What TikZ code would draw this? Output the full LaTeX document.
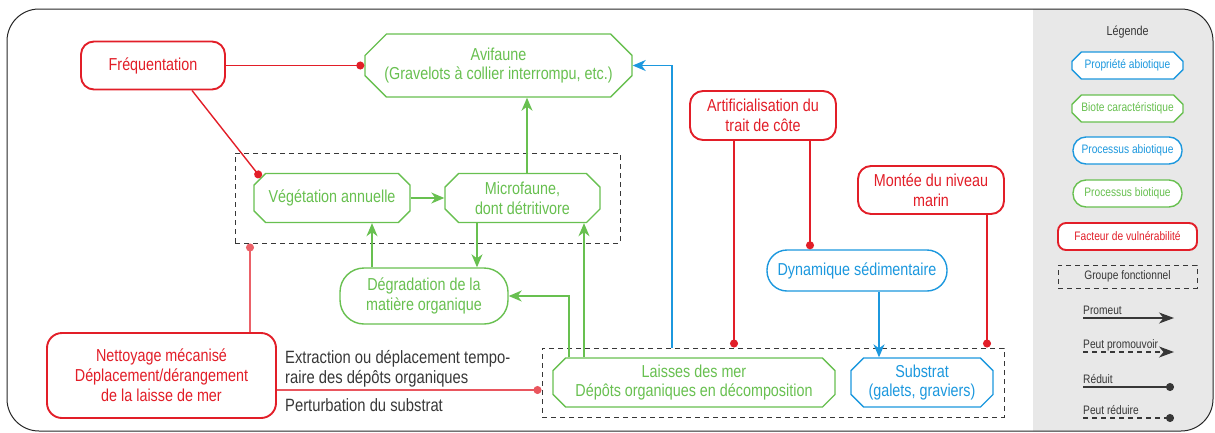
\documentclass[tikz,border=0pt]{standalone}
\usepackage{fontspec}
\setmainfont{Liberation Sans}[FakeStretch=0.83]
\usetikzlibrary{shapes.misc,arrows.meta,calc}
\definecolor{cred}{RGB}{226,30,40}
\definecolor{cgreen}{RGB}{104,192,80}
\definecolor{cblue}{RGB}{28,152,222}
\definecolor{cdark}{RGB}{55,55,55}
\definecolor{cpanel}{RGB}{232,232,232}
\begin{document}
\begin{tikzpicture}[x=1pt,y=-1pt,
  base/.style={inner sep=0pt, align=center, font=\fontsize{17.3}{19.8}\selectfont, fill=white},
  octo/.style={base, chamfered rectangle, chamfered rectangle angle=45, chamfered rectangle xsep=#1, draw, line width=1.4pt},
  gocto/.style={octo=#1, draw=cgreen, text=cgreen},
  bocto/.style={octo=#1, draw=cblue, text=cblue},
  gpill/.style={base, rectangle, rounded corners=#1, draw=cgreen, text=cgreen, line width=1.4pt},
  bpill/.style={base, rectangle, rounded corners=#1, draw=cblue, text=cblue, line width=1.4pt},
  redbox/.style={base, rectangle, rounded corners=#1, draw=cred, text=cred, line width=1.9pt},
  grp/.style={rectangle, draw=cdark, dashed, dash pattern=on 5pt off 4pt, line width=1pt, inner sep=0pt},
  garrow/.style={draw=cgreen, line width=1.4pt, -{Stealth[length=13pt,width=11pt,inset=4pt]}},
  barrow/.style={draw=cblue, line width=1.4pt, -{Stealth[length=13pt,width=11pt,inset=4pt]}},
  rdot/.style={draw=cred, line width=1.4pt, -{Circle[length=8pt]}},
  lbl/.style={inner sep=0pt, text=cdark, font=\fontsize{17.8}{19.8}\selectfont},
  legtxt/.style={inner sep=0pt, text=cdark, font=\fontsize{12.3}{14}\selectfont},
  legarrow/.style={draw=cdark, line width=1.2pt, -{Stealth[length=15pt,width=11pt,inset=4.5pt]}},
  legdot/.style={draw=cdark, line width=1.2pt, -{Circle[length=8pt]}},
]
\useasboundingbox (0,0) rectangle (1215,432);
% frame and legend panel
\begin{scope}
  \clip[rounded corners=32pt] (7,9) rectangle (1213,431);
  \fill[cpanel] (1033,0) rectangle (1215,432);
\end{scope}
\draw[black!85, line width=1pt, rounded corners=32pt] (7,9) rectangle (1213,431);

% groups
\node[grp, minimum width=385pt, minimum height=90pt] (grp1) at (427.5,198) {};
\node[grp, minimum width=462pt, minimum height=69pt] (grp2) at (773,382.5) {};

% nodes
\node[redbox=13pt, minimum width=144pt, minimum height=48pt] (freq) at (153,65.5) {Fréquentation};
\node[gocto=18pt, minimum width=267pt, minimum height=63pt] (avi) at (498.5,65.5) {Avifaune\\(Gravelots à collier interrompu, etc.)};
\node[gocto=9pt, minimum width=156pt, minimum height=49pt] (veg) at (332,198) {Végétation annuelle};
\node[gocto=10pt, minimum width=155pt, minimum height=49pt] (micro) at (522.5,198) {Microfaune,\\dont détritivore};
\node[gpill=24pt, minimum width=168pt, minimum height=56pt] (deg) at (424,296) {Dégradation de la\\matière organique};
\node[gocto=9pt, minimum width=282pt, minimum height=49pt] (laisses) at (694,382.5) {Laisses des mer\\Dépôts organiques en décomposition};
\node[bocto=9pt, minimum width=142pt, minimum height=49pt] (sub) at (922,382.5) {Substrat\\(galets, graviers)};
\node[redbox=13pt, minimum width=146pt, minimum height=49pt] (art) at (763,115.5) {Artificialisation du\\trait de côte};
\node[bpill=20pt, minimum width=180pt, minimum height=41pt] (dyn) at (857,270.5) {Dynamique sédimentaire};
\node[redbox=13pt, minimum width=146pt, minimum height=48pt] (montee) at (931,190) {Montée du niveau\\marin};
\node[redbox=15pt, minimum width=229pt, minimum height=85pt] (nett) at (161.5,375.5) {Nettoyage mécanisé\\Déplacement/dérangement\\de la laisse de mer};

% labels
\node[lbl, anchor=base west, align=left] (lab1) at (285,383) {Extraction ou déplacement tempo-\\raire des dépôts organiques};
\node[lbl, anchor=base west] (lab2) at (285,411) {Perturbation du substrat};

% x-coordinates for vertical connectors
\coordinate (x250) at (250,0);
\coordinate (x372) at (372,0);
\coordinate (x477) at (477,0);
\coordinate (x527) at (527,0);
\coordinate (x569) at (569,0);
\coordinate (x584) at (584,0);
\coordinate (x672) at (672,0);
\coordinate (x734) at (734,0);
\coordinate (x810) at (810,0);
\coordinate (x879) at (879,0);
\coordinate (x987) at (987,0);
\coordinate (y390) at (0,390);

% connectors
\draw[rdot] (freq.east) -- (avi.west);
\draw[rdot] ($(freq.south)+(39,0)$) -- (veg.164);
\draw[garrow] (veg.east) -- (micro.west);
\draw[garrow] (micro.north -| x527) -- (avi.south -| x527);
\draw[garrow] (deg.north -| x372) -- (veg.south -| x372);
\draw[garrow] (micro.south -| x477) -- (deg.north -| x477);
\draw[garrow] (laisses.north -| x584) -- (micro.south -| x584);
\draw[garrow] (laisses.north -| x569) |- (deg.east);
\draw[barrow] (grp2.north -| x672) |- (avi.east);
\draw[rdot] (art.south -| x734) -- (grp2.north -| x734);
\draw[rdot] (art.south -| x810) -- (dyn.north -| x810);
\draw[barrow] (dyn.south -| x879) -- (sub.north -| x879);
\draw[rdot] (montee.south -| x987) -- (grp2.north -| x987);
\draw[rdot, draw=cred!70] (nett.north -| x250) -- (grp1.south -| x250);
\draw[rdot, draw=cred!75] (nett.east |- y390) -- (grp2.west |- y390);

% legend
\node[legtxt, font=\fontsize{13}{15}\selectfont] (legtitle) at (1127.5,32) {Légende};
\node[bocto=7pt, minimum width=111pt, minimum height=27pt, font=\fontsize{12.3}{14}\selectfont] (l1) at (1127.5,65.5) {Propriété abiotique};
\node[gocto=7pt, minimum width=111pt, minimum height=27pt, font=\fontsize{12.3}{14}\selectfont] (l2) at (1127.5,108.5) {Biote caractéristique};
\node[bpill=13pt, minimum width=109pt, minimum height=27pt, font=\fontsize{12.3}{14}\selectfont] (l3) at (1127.5,150.5) {Processus abiotique};
\node[gpill=13pt, minimum width=109pt, minimum height=27pt, font=\fontsize{12.3}{14}\selectfont] (l4) at (1127.5,193.5) {Processus biotique};
\node[redbox=8pt, minimum width=139pt, minimum height=27pt, font=\fontsize{12.3}{14}\selectfont] (l5) at (1127.5,236.5) {Facteur de vulnérabilité};
\node[grp, minimum width=139pt, minimum height=23pt, legtxt] (l6) at (1127.5,276.5) {Groupe fonctionnel};

\node[legtxt, anchor=base west] (t1) at (1083,314) {Promeut};
\node[legtxt, anchor=base west] (t2) at (1083,348) {Peut promouvoir};
\node[legtxt, anchor=base west] (t3) at (1083,383) {Réduit};
\node[legtxt, anchor=base west] (t4) at (1083,414) {Peut réduire};
\coordinate (a1s) at (1083,318); \coordinate (a1e) at (1174,318);
\coordinate (a2s) at (1083,352); \coordinate (a2e) at (1174,352);
\coordinate (a3s) at (1083,387); \coordinate (a3e) at (1174,387);
\coordinate (a4s) at (1083,418); \coordinate (a4e) at (1174,418);
\draw[legarrow] (a1s) -- (a1e);
\draw[legarrow, dash pattern=on 5pt off 4pt] (a2s) -- (a2e);
\draw[legdot] (a3s) -- (a3e);
\draw[legdot, dash pattern=on 5pt off 4pt] (a4s) -- (a4e);
\end{tikzpicture}
\end{document}
